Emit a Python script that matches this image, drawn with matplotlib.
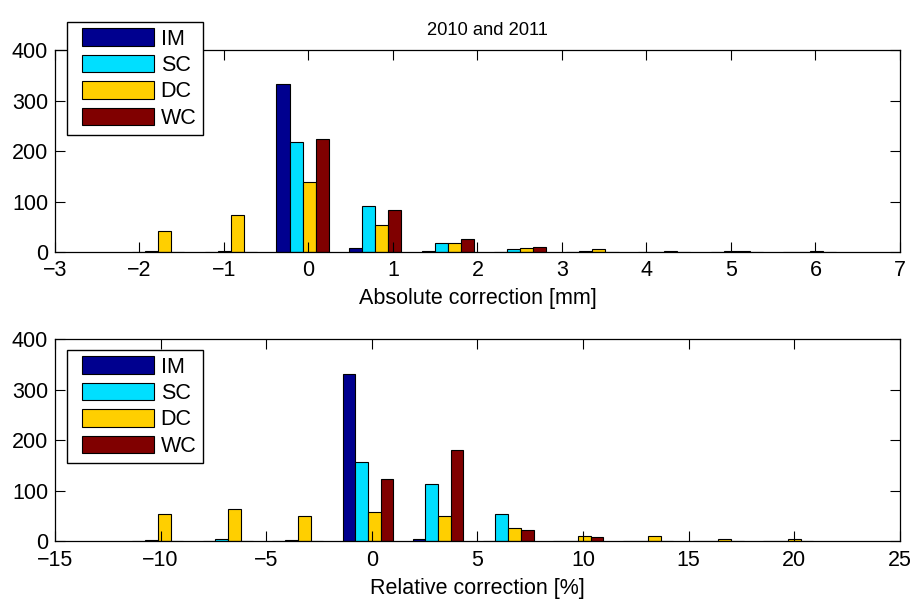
import numpy as np
import matplotlib.pyplot as plt
from matplotlib.patches import Rectangle
from matplotlib.container import BarContainer
from matplotlib.legend_handler import HandlerPatch

plt.rcParams['font.family'] = ['Liberation Sans', 'DejaVu Sans']
plt.rcParams['font.size'] = 15.5

series = ['IM', 'SC', 'DC', 'WC']
colors = ['#00008F', '#00DFFF', '#FFCF00', '#800000']

# absolute correction histogram (mm)
abs_centers = [-1.78, -0.92, -0.07, 0.79, 1.65, 2.50, 3.36, 4.21, 5.07, 5.93]
abs_im = [0, 0, 332, 7, 1, 0, 0, 0, 0, 0]
abs_sc = [2, 2, 217, 91, 18, 5, 2, 0, 1, 0]
abs_dc = [41, 73, 139, 54, 18, 7, 5, 1, 1, 2]
abs_wc = [0, 0, 223, 83, 25, 10, 0, 0, 0, 0]

# relative correction histogram (%)
rel_centers = [-10.13, -6.81, -3.50, -0.18, 3.13, 6.45, 9.76, 13.07, 16.39, 19.70]
rel_im = [0, 0, 0, 331, 4, 0, 0, 0, 0, 0]
rel_sc = [2, 4, 2, 157, 114, 54, 0, 0, 0, 0]
rel_dc = [54, 64, 51, 59, 51, 26, 10, 10, 5, 4]
rel_wc = [0, 0, 0, 124, 180, 23, 8, 0, 0, 0]


def grouped_bars(ax, centers, groups):
    centers = np.asarray(centers)
    spacing = np.min(np.diff(centers))
    n = len(groups)
    # same grouping rule as MATLAB's bar(..., 'grouped')
    w = min(0.8, n / (n + 1.5)) * spacing / n
    for i, vals in enumerate(groups):
        x = centers + (i - (n - 1) / 2) * w
        ax.bar(x, vals, width=w, color=colors[i], edgecolor='black',
               linewidth=0.8, label=series[i])


def style(ax):
    ax.tick_params(direction='in', top=True, right=True, length=7, width=0.8)
    ax.tick_params(axis='x', pad=6)
    ax.tick_params(axis='y', pad=5)
    for sp in ax.spines.values():
        sp.set_linewidth(0.9)


def legend_box(legend, orig_handle, xdescent, ydescent, width, height, fontsize):
    # leave a gap on the left of each swatch
    off = 0.4 * fontsize
    return Rectangle((-xdescent + off, -ydescent), width - off, height)


def first_bar_style(legend_handle, orig_handle):
    bars = orig_handle.get_children()
    if bars:
        legend_handle.update_from(bars[0])


fig = plt.figure(figsize=(9.12, 5.99), dpi=100)
ax1 = fig.add_axes([0.0603, 0.5793, 0.9265, 0.3372])
ax2 = fig.add_axes([0.0603, 0.0960, 0.9265, 0.3376])

grouped_bars(ax1, abs_centers, [abs_im, abs_sc, abs_dc, abs_wc])
ax1.set_xlim(-3, 7)
ax1.set_ylim(0, 400)
ax1.set_xticks(np.arange(-3, 8, 1))
ax1.set_yticks(np.arange(0, 401, 100))
ax1.set_xlabel('Absolute correction [mm]', labelpad=5)
ax1.set_title('2010 and 2011', fontsize=13.2, pad=11, x=0.512)
style(ax1)

grouped_bars(ax2, rel_centers, [rel_im, rel_sc, rel_dc, rel_wc])
ax2.set_xlim(-15, 25)
ax2.set_ylim(0, 400)
ax2.set_xticks(np.arange(-15, 26, 5))
ax2.set_yticks(np.arange(0, 401, 100))
ax2.set_xlabel('Relative correction [%]', labelpad=5)
style(ax2)

swatch = HandlerPatch(patch_func=legend_box, update_func=first_bar_style)
for ax, top in [(ax1, 1 - 22 / 599), (ax2, 1 - 350 / 599)]:
    leg = ax.legend(loc='upper left', bbox_to_anchor=(67 / 912, top),
                    bbox_transform=fig.transFigure, fancybox=False,
                    edgecolor='black', framealpha=1, borderaxespad=0,
                    handlelength=3.75, handleheight=0.88, labelspacing=0.24,
                    handletextpad=0.3, borderpad=0.3,
                    handler_map={BarContainer: swatch})
    leg.get_frame().set_linewidth(1.0)

fig.savefig('out.png', dpi=100)
